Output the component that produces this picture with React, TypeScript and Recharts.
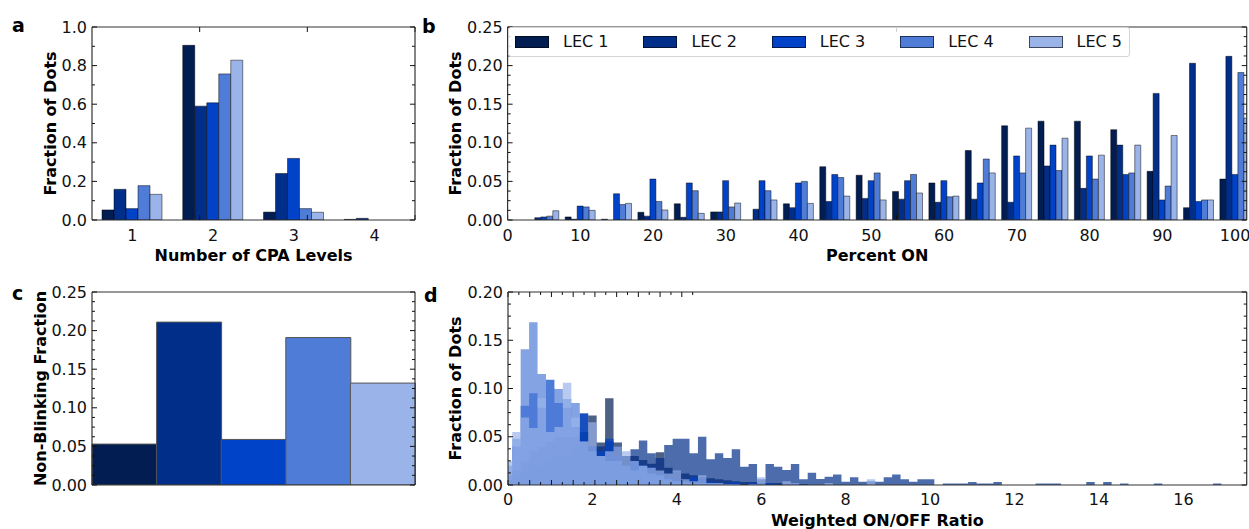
import React from 'react'
import { Area, AreaChart, Bar, BarChart, Cell, Legend, XAxis, YAxis } from 'recharts'

const FONT = '"DejaVu Sans", Verdana, sans-serif'

const LEC_NAMES = ['LEC 1', 'LEC 2', 'LEC 3', 'LEC 4', 'LEC 5']
const LEC_KEYS = ['lec1', 'lec2', 'lec3', 'lec4', 'lec5']
const LEC_COLORS = ['#011d52', '#012e88', '#0043c8', '#4f7cd7', '#9ab4e9']

// a: number of CPA levels
const CPA_LEVELS = [1, 2, 3, 4]
const CPA_LEC1 = [0.052, 0.905, 0.041, 0.003]
const CPA_LEC2 = [0.159, 0.59, 0.241, 0.0086]
const CPA_LEC3 = [0.059, 0.607, 0.319, 0]
const CPA_LEC4 = [0.178, 0.757, 0.059, 0]
const CPA_LEC5 = [0.133, 0.828, 0.04, 0]

// b: percent ON
const PCT_ON = [5, 10, 15, 20, 25, 30, 35, 40, 45, 50, 55, 60, 65, 70, 75, 80, 85, 90, 95, 100]
const PCT_LEC1 = [0, 0.004, 0.001, 0.01, 0.021, 0.0105, 0, 0.021, 0.069, 0.058, 0.037, 0.048, 0.09, 0.122, 0.128, 0.128, 0.117, 0.063, 0.016, 0.053]
const PCT_LEC2 = [0.003, 0.001, 0, 0.005, 0.0035, 0.0105, 0.014, 0.016, 0.024, 0.028, 0.027, 0.023, 0.027, 0.023, 0.07, 0.041, 0.097, 0.164, 0.203, 0.212]
const PCT_LEC3 = [0.004, 0.018, 0.034, 0.053, 0.048, 0.051, 0.051, 0.048, 0.059, 0.051, 0.051, 0.051, 0.048, 0.083, 0.097, 0.083, 0.059, 0.026, 0.024, 0.059]
const PCT_LEC4 = [0.005, 0.017, 0.02, 0.024, 0.038, 0.017, 0.038, 0.05, 0.055, 0.061, 0.059, 0.03, 0.079, 0.061, 0.064, 0.053, 0.061, 0.044, 0.026, 0.191]
const PCT_LEC5 = [0.012, 0.0125, 0.0215, 0.013, 0.0086, 0.022, 0.026, 0.0215, 0.031, 0.026, 0.035, 0.031, 0.061, 0.119, 0.106, 0.084, 0.097, 0.1095, 0.026, 0.132]
const PCT_TICKS = [0, 10, 20, 30, 40, 50, 60, 70, 80, 90, 100]

// c: non-blinking fraction
const NON_BLINKING = [0.053, 0.211, 0.059, 0.191, 0.132]

// d: weighted ON/OFF ratio histograms (left bin edges, value holds to next edge)
const RATIO_EDGES = [
  0, 0.1, 0.3, 0.5, 0.7, 0.9, 1.1, 1.3, 1.5, 1.7, 1.9, 2.1, 2.3, 2.5, 2.7, 2.9, 3.1, 3.3, 3.5, 3.7,
  3.9, 4.1, 4.3, 4.5, 4.7, 4.9, 5.1, 5.3, 5.5, 5.7, 5.9, 6.1, 6.3, 6.5, 6.7, 6.9, 7.1, 7.3, 7.5, 7.7,
  7.9, 8.1, 8.3, 8.5, 8.7, 8.9, 9.1, 9.3, 9.5, 9.7, 9.9, 10.1, 10.3, 10.9, 11.1, 11.5, 11.7, 12.5, 13.1,
  13.7, 13.9, 14.1, 14.3, 14.5, 14.7, 15.3, 15.5, 16.7, 16.9,
]
const RATIO_LEC1 = [
  0.005, 0.015, 0.025, 0.035, 0.04, 0.045, 0.05, 0.05, 0.05, 0.055, 0.072, 0.044, 0.0898, 0.044, 0.03,
  0.03, 0.026, 0.022, 0.034, 0.018, 0.014, 0.012, 0.01, 0.008, 0.007, 0.006, 0.005, 0.004, 0.003, 0.003,
  0.002, 0.002, 0.002, 0.001, 0.001, 0.001,
]
const RATIO_LEC2 = [
  0.005, 0.01, 0.015, 0.02, 0.02, 0.025, 0.03, 0.03, 0.04, 0.074, 0.04, 0.04, 0.045, 0.04,
  0.03, 0.037, 0.046, 0.033, 0.028, 0.0415, 0.048, 0.048, 0.0328, 0.05, 0.0266, 0.0328, 0.028, 0.037,
  0.019, 0.0218, 0.006, 0.0218, 0.019, 0.0155, 0.0218, 0.006, 0.0128, 0.0062, 0.0086, 0.011, 0.0034,
  0.008, 0.0034, 0.004, 0.0034, 0.008, 0.011, 0.006, 0.0034, 0.006, 0.006,
  0, 0.0015, 0.003, 0.0015, 0.003, 0, 0.0015, 0, 0.003, 0, 0.003, 0, 0.0015, 0, 0.0015, 0, 0.0015, 0,
]
const RATIO_LEC3 = [
  0.01, 0.04, 0.082, 0.095, 0.08, 0.109, 0.085, 0.08, 0.06, 0.074, 0.04, 0.035, 0.048, 0.03, 0.02,
  0.025, 0.02, 0.018, 0.012, 0.008, 0.006, 0.004, 0.008, 0.006, 0.003, 0.002, 0.002, 0.003, 0, 0.002,
  0, 0.002, 0, 0.001, 0.002, 0,
]
const RATIO_LEC4 = [
  0.02, 0.048, 0.1406, 0.1686, 0.115, 0.1, 0.0995, 0.089, 0.085, 0.045, 0.035, 0.03, 0.025, 0.025, 0.02,
  0.015, 0.02, 0.012, 0.01, 0.006, 0.004, 0.003, 0.002, 0.002, 0.001, 0.001, 0.001, 0, 0, 0,
  0, 0, 0, 0, 0, 0,
]
const RATIO_LEC5 = [
  0.0245, 0.055, 0.07, 0.059, 0.09, 0.055, 0.06, 0.106, 0.07, 0.045, 0.065, 0.03, 0.035, 0.04, 0.035,
  0.025, 0.02, 0.018, 0.015, 0.012, 0.015, 0.006, 0.004, 0.01, 0.002, 0.002, 0.001, 0.001, 0, 0.001,
  0.008, 0, 0, 0.004, 0.002, 0, 0, 0, 0.002, 0, 0, 0, 0, 0.006,
]
const RATIO_TICKS = [0, 2, 4, 6, 8, 10, 12, 14, 16]
const RATIO_MINOR = [1, 3, 5, 7, 9, 11, 13, 15, 17]

const Y_A = [0, 0.2, 0.4, 0.6, 0.8, 1.0]
const Y_A_MINOR = [0.1, 0.3, 0.5, 0.7, 0.9]
const Y_25 = [0, 0.05, 0.1, 0.15, 0.2, 0.25]
const Y_20 = [0, 0.05, 0.1, 0.15, 0.2]
const Y_MINOR = [
  0.0125, 0.025, 0.0375, 0.0625, 0.075, 0.0875, 0.1125, 0.125, 0.1375, 0.1625, 0.175, 0.1875,
  0.2125, 0.225, 0.2375,
]

const toRows = (xKey: string, xs: number[], series: number[][]) =>
  xs.map((x, i) => {
    const row: Record<string, number> = { [xKey]: x }
    series.forEach((s, j) => {
      row[LEC_KEYS[j]] = s[i] ?? 0
    })
    return row
  })

const cpaRows = toRows('level', CPA_LEVELS, [CPA_LEC1, CPA_LEC2, CPA_LEC3, CPA_LEC4, CPA_LEC5])
const pctRows = toRows('pct', PCT_ON, [PCT_LEC1, PCT_LEC2, PCT_LEC3, PCT_LEC4, PCT_LEC5])
const ratioRows = toRows('ratio', RATIO_EDGES, [RATIO_LEC1, RATIO_LEC2, RATIO_LEC3, RATIO_LEC4, RATIO_LEC5])
const nbRows = LEC_NAMES.map((name, i) => ({ name, value: NON_BLINKING[i] }))

const TICK_TEXT = { fontSize: 16, fill: '#111', fontFamily: FONT }
const TITLE = { fontSize: 16, fontWeight: 700, fill: '#000', fontFamily: FONT }
const FRAME = { stroke: '#333', strokeWidth: 1.2 }
const TICK_LINE = { stroke: '#111', strokeWidth: 1 }
const BAR_EDGE = 'rgba(0,0,0,0.6)'
// mirrored tick-only axes need a non-zero size to be drawn
const THIN = 0.01
// tick marks without labels (tick={false} would drop the marks too)
const NoLabel = () => <g />

const fmt1 = (v: number) => v.toFixed(1)
const fmt2 = (v: number) => v.toFixed(2)

// tick-only axes drawn inward on the frame
function sideY(id: string, orientation: 'left' | 'right', domain: number[], ticks: number[], size: number, line: boolean) {
  return (
    <YAxis key={id} yAxisId={id} orientation={orientation} mirror width={THIN} type="number"
      domain={domain} ticks={ticks} interval={0} allowDataOverflow tick={NoLabel} tickSize={size}
      tickLine={TICK_LINE} axisLine={line ? FRAME : false} />
  )
}

function sideX(id: string, orientation: 'top' | 'bottom', domain: number[], ticks: number[], size: number, line: boolean) {
  return (
    <XAxis key={id} xAxisId={id} orientation={orientation} mirror height={THIN} type="number"
      domain={domain} ticks={ticks} interval={0} allowDataOverflow tick={NoLabel} tickSize={size}
      tickLine={size > 0 ? TICK_LINE : false} axisLine={line ? FRAME : false} />
  )
}

function yFrame(domain: number[], major: number[], minor: number[], width: number, fmt: (v: number) => string, title: string) {
  return [
    <YAxis key="y" yAxisId="y" type="number" domain={domain} ticks={major} interval={0} allowDataOverflow
      width={width} tickSize={0} tickMargin={5} tickLine={false} axisLine={FRAME} tick={TICK_TEXT}
      tickFormatter={fmt} label={{ value: title, angle: -90, position: 'center', ...TITLE }} />,
    sideY('yl', 'left', domain, major, 5, false),
    sideY('ylm', 'left', domain, minor, 3, false),
    sideY('yr', 'right', domain, major, 5, true),
    sideY('yrm', 'right', domain, minor, 3, false),
  ]
}

function LegendBox({ payload }: any) {
  return (
    <div style={{
      boxSizing: 'border-box', width: 622, height: 30, paddingLeft: 6, display: 'flex', alignItems: 'center',
      background: 'rgba(255,255,255,0.8)', border: '1px solid #d4d4d4', borderRadius: 3,
      fontFamily: FONT, fontSize: 16, color: '#111',
    }}>
      {(payload || []).map((entry: any) => (
        <div key={entry.value} style={{ display: 'flex', alignItems: 'center', width: 128.4, flex: 'none' }}>
          <span style={{
            display: 'inline-block', boxSizing: 'border-box', width: 34, height: 12,
            background: entry.color, border: '1px solid rgba(0,0,0,0.6)',
          }} />
          <span style={{ marginLeft: 14, lineHeight: '16px' }}>{entry.value}</span>
        </div>
      ))}
    </div>
  )
}

function PanelLetter({ text, left, top }: { text: string; left: number; top: number }) {
  return (
    <div style={{ position: 'absolute', left, top, fontFamily: FONT, fontWeight: 700, fontSize: 19, lineHeight: 1, color: '#000' }}>
      {text}
    </div>
  )
}

export default function App() {
  return (
    <div style={{ position: 'absolute', left: 0, top: 0, width: 1249, height: 529, overflow: 'hidden', background: '#fff' }}>
      {/* a */}
      <div style={{ position: 'absolute', left: 0, top: 0 }}>
        <BarChart width={416} height={290} data={cpaRows} margin={{ top: 27, right: 1, bottom: 0, left: 8 }}
          barGap={0} barCategoryGap="12.4%">
          <XAxis xAxisId="x" dataKey="level" height={70} tickSize={0} tickMargin={10} tickLine={false}
            axisLine={FRAME} tick={TICK_TEXT} interval={0}
            label={{ value: 'Number of CPA Levels', position: 'center', ...TITLE }} />
          {sideX('xb', 'bottom', [0.5, 4.5], CPA_LEVELS, 5, false)}
          {sideX('xt', 'top', [0.5, 4.5], CPA_LEVELS, 5, true)}
          {yFrame([0, 1], Y_A, Y_A_MINOR, 84, fmt1, 'Fraction of Dots')}
          {LEC_KEYS.map((k, i) => (
            <Bar key={k} dataKey={k} name={LEC_NAMES[i]} xAxisId="x" yAxisId="y" fill={LEC_COLORS[i]}
              stroke={BAR_EDGE} strokeWidth={0.8} isAnimationActive={false} />
          ))}
        </BarChart>
      </div>

      {/* b */}
      <div style={{ position: 'absolute', left: 400, top: 0 }}>
        <BarChart width={849} height={290} data={pctRows} margin={{ top: 27, right: 2.3, bottom: 0, left: 2.4 }} barGap={0}>
          <XAxis xAxisId="x" dataKey="pct" type="number" domain={[0, 101.6]} ticks={PCT_TICKS} interval={0}
            allowDataOverflow height={70} tickSize={0} tickMargin={10} tickLine={false} axisLine={FRAME}
            tick={TICK_TEXT} label={{ value: 'Percent ON', position: 'center', ...TITLE }} />
          {sideX('xb', 'bottom', [0, 101.6], PCT_TICKS, 5, false)}
          {sideX('xt', 'top', [0, 101.6], PCT_TICKS, 5, true)}
          {yFrame([0, 0.25], Y_25, Y_MINOR, 105.2, fmt2, 'Fraction of Dots')}
          {LEC_KEYS.map((k, i) => (
            <Bar key={k} dataKey={k} name={LEC_NAMES[i]} xAxisId="x" yAxisId="y" fill={LEC_COLORS[i]}
              stroke={BAR_EDGE} strokeWidth={0.8} barSize={6} isAnimationActive={false} />
          ))}
          <Legend verticalAlign="middle" align="center" layout="horizontal"
            wrapperStyle={{ left: 108, top: 27, width: 622, height: 30 }}
            content={(props: any) => <LegendBox payload={props.payload} />} />
        </BarChart>
      </div>

      {/* c */}
      <div style={{ position: 'absolute', left: -20, top: 265 }}>
        <BarChart width={436} height={230} data={nbRows} margin={{ top: 27, right: 1, bottom: 10, left: 8 }}
          barGap={0} barCategoryGap={0}>
          <XAxis xAxisId="x" dataKey="name" height={THIN} tick={false} tickLine={false} axisLine={FRAME} />
          {sideX('xt', 'top', [0, 1], [0], 0, true)}
          {yFrame([0, 0.25], Y_25, Y_MINOR, 104, fmt2, 'Non-Blinking Fraction')}
          <Bar dataKey="value" xAxisId="x" yAxisId="y" stroke="#555" strokeWidth={1} isAnimationActive={false}>
            {nbRows.map((row, i) => (
              <Cell key={row.name} fill={LEC_COLORS[i]} />
            ))}
          </Bar>
        </BarChart>
      </div>

      {/* d */}
      <div style={{ position: 'absolute', left: 400, top: 265 }}>
        <AreaChart width={849} height={290} data={ratioRows} margin={{ top: 27, right: 2.3, bottom: 0, left: 2 }}>
          <XAxis xAxisId="x" dataKey="ratio" type="number" domain={[0, 17.5]} ticks={RATIO_TICKS} interval={0}
            allowDataOverflow height={70} tickSize={0} tickMargin={8.5} tickLine={false} axisLine={FRAME}
            tick={TICK_TEXT} label={{ value: 'Weighted ON/OFF Ratio', position: 'center', ...TITLE }} />
          {sideX('xb', 'bottom', [0, 17.5], RATIO_TICKS, 5, false)}
          {sideX('xbm', 'bottom', [0, 17.5], RATIO_MINOR, 3, false)}
          {sideX('xt', 'top', [0, 17.5], RATIO_TICKS, 5, true)}
          {sideX('xtm', 'top', [0, 17.5], RATIO_MINOR, 3, false)}
          {yFrame([0, 0.2], Y_20, Y_MINOR.filter((v) => v < 0.2), 106, fmt2, 'Fraction of Dots')}
          {LEC_KEYS.map((k, i) => (
            <Area key={k} dataKey={k} name={LEC_NAMES[i]} xAxisId="x" yAxisId="y" type="stepAfter"
              fill={LEC_COLORS[i]} fillOpacity={0.7} stroke="none" dot={false} activeDot={false}
              isAnimationActive={false} />
          ))}
        </AreaChart>
      </div>

      <PanelLetter text="a" left={12} top={16} />
      <PanelLetter text="b" left={422} top={17} />
      <PanelLetter text="c" left={12} top={284} />
      <PanelLetter text="d" left={424} top={286} />
    </div>
  )
}
